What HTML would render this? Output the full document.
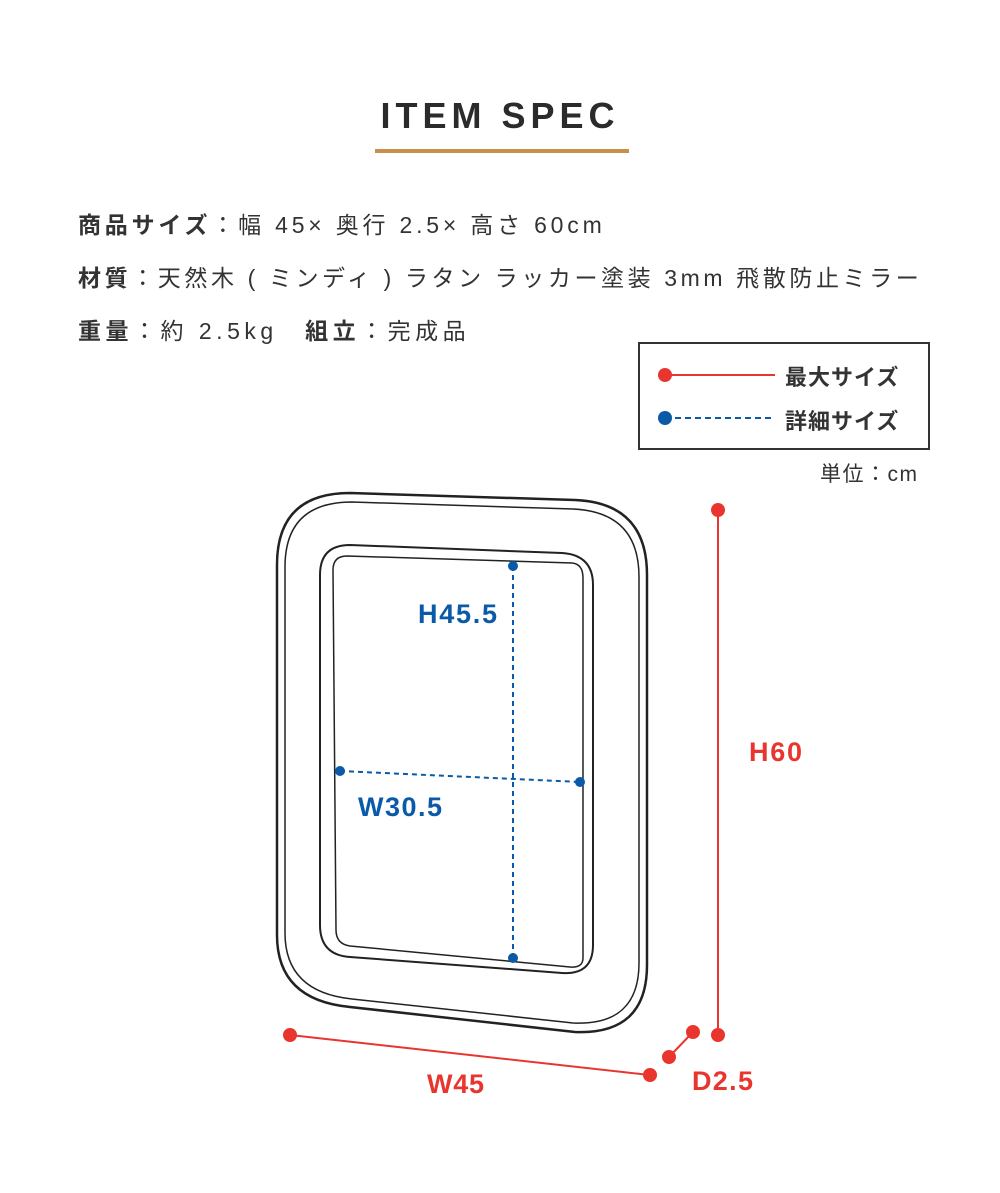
<!DOCTYPE html>
<html><head><meta charset="utf-8"><style>
body{margin:0;width:1000px;height:1193px;background:#fff;overflow:hidden;font-family:"Liberation Sans","Noto Sans CJK JP",sans-serif;color:#333}
.t{position:absolute;white-space:nowrap}
.s{letter-spacing:3.8px}
</style></head><body>
<div class="t" style="left:0;width:1000px;text-align:center;top:95px;font-size:36px;font-weight:bold;letter-spacing:5px;color:#2b2b2b">ITEM SPEC</div>
<div style="position:absolute;left:375px;top:149px;width:254px;height:4px;background:#c8904f"></div>
<div class="t s" style="left:78px;top:206px;font-size:23px"><b>商品サイズ</b>：幅 45× 奥行 2.5× 高さ 60cm</div>
<div class="t s" style="left:78px;top:259px;font-size:23px;letter-spacing:3.6px"><b>材質</b>：天然木 ( ミンディ ) ラタン ラッカー塗装 3mm 飛散防止ミラー</div>
<div class="t s" style="left:78px;top:312px;font-size:23px;letter-spacing:4.5px"><b>重量</b>：約 2.5kg　<b>組立</b>：完成品</div>
<div style="position:absolute;left:638px;top:342px;width:292px;height:108px;border:2px solid #333;box-sizing:border-box"></div>
<div class="t" style="left:785px;top:360px;font-size:22px;font-weight:bold;letter-spacing:1px">最大サイズ</div>
<div class="t" style="left:785px;top:404px;font-size:22px;font-weight:bold;letter-spacing:1px">詳細サイズ</div>
<div class="t" style="left:820px;top:458px;font-size:21px;letter-spacing:1.5px">単位：cm</div>
<svg style="position:absolute;left:0;top:0" width="1000" height="1193">
<line x1="665" y1="375" x2="775" y2="375" stroke="#e8362f" stroke-width="2"/><circle cx="665" cy="375" r="7" fill="#e8362f"/>
<line x1="665" y1="418" x2="775" y2="418" stroke="#0a5aa8" stroke-width="2" stroke-dasharray="6,4"/><circle cx="665" cy="418" r="7" fill="#0a5aa8"/>
<g fill="none" stroke="#222">
<path d="M277,565 Q277,493 350,493 L575,500 Q647,503 647,575 L647,965 Q647,1035 575,1032 L350,1007 Q277,1000 277,935 Z" stroke-width="2.5"/>
<path d="M285,567 Q285,502 352,502 L573,509 Q639,512 639,577 L639,963 Q639,1026 573,1023 L352,999 Q285,992 285,933 Z" stroke-width="1.5"/>
<path d="M320,575 Q320,545 350,545 L562,553 Q593,555 593,585 L593,945 Q593,975 562,973 L350,957 Q320,955 320,925 Z" stroke-width="2"/>
<path d="M333,570 Q333,556 347,556 L572,563 Q583,564 583,578 L583,958 Q583,968 570,967 L350,946 Q336,944 336,930 Z" stroke-width="1.5"/>
</g>
<g stroke="#0a5aa8" stroke-width="2" stroke-dasharray="5,4" fill="#0a5aa8">
<line x1="513" y1="566" x2="513" y2="958"/><line x1="340" y1="771" x2="580" y2="782"/></g>
<g fill="#0a5aa8"><circle cx="513" cy="566" r="5"/><circle cx="513" cy="958" r="5"/><circle cx="340" cy="771" r="5"/><circle cx="580" cy="782" r="5"/></g>
<g stroke="#e8362f" stroke-width="2" fill="#e8362f">
<line x1="718" y1="510" x2="718" y2="1035"/><circle cx="718" cy="510" r="6"/><circle cx="718" cy="1035" r="6"/>
<line x1="290" y1="1035" x2="650" y2="1075"/><circle cx="290" cy="1035" r="6"/><circle cx="650" cy="1075" r="6"/>
<line x1="669" y1="1057" x2="693" y2="1032"/><circle cx="669" cy="1057" r="6"/><circle cx="693" cy="1032" r="6"/>
</g>
<g font-family="Liberation Sans, sans-serif" font-weight="bold" font-size="27">
<text x="418" y="623" fill="#0a5aa8" textLength="79">H45.5</text>
<text x="358" y="816" fill="#0a5aa8" textLength="84">W30.5</text>
<text x="749" y="761" fill="#e8362f" textLength="53">H60</text>
<text x="427" y="1093" fill="#e8362f" textLength="57">W45</text>
<text x="692" y="1090" fill="#e8362f" textLength="61">D2.5</text>
</g>
</svg>
</body></html>
